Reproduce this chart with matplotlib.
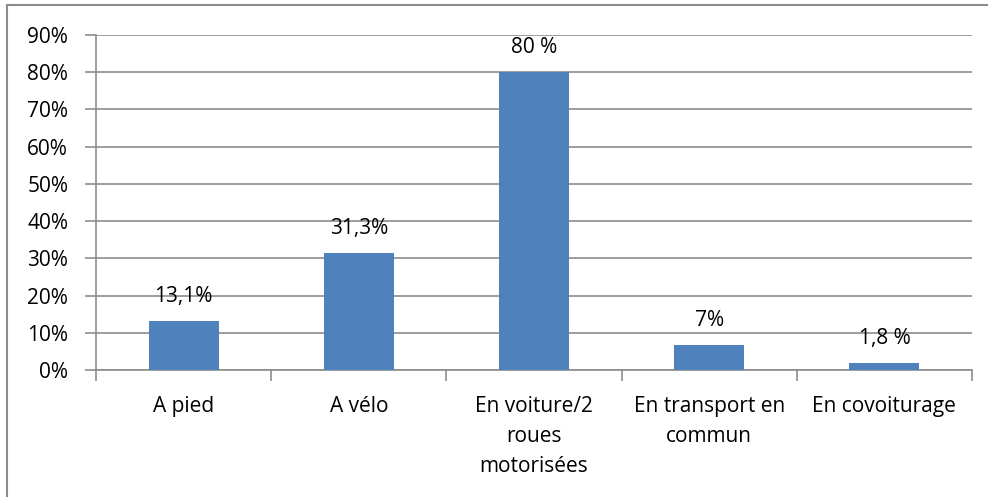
import matplotlib
matplotlib.use("Agg")
import matplotlib.pyplot as plt
from matplotlib.lines import Line2D
import numpy as np

categories = ["A pied", "A vélo", "En voiture/2\nroues\nmotorisées",
              "En transport en\ncommun", "En covoiturage"]
values = [13.1, 31.3, 80.0, 6.7, 1.8]
value_labels = ["13,1%", "31,3%", "80 %", "7%", "1,8 %"]
y_ticks = [0, 10, 20, 30, 40, 50, 60, 70, 80, 90]

plt.rcParams['font.family'] = ['Open Sans', 'DejaVu Sans']
FS = 15

fig = plt.figure(figsize=(9.88, 4.97), dpi=100)
ax = fig.add_axes([96 / 988, 1 - 370 / 497, 876 / 988, 335 / 497])

x = np.arange(len(categories))
ax.bar(x, values, width=0.4, color='#4F81BD', zorder=3)

for xi, v, lab in zip(x, values, value_labels):
    ax.annotate(lab, (xi, v), xytext=(0, 18), textcoords='offset points',
                ha='center', va='center', fontsize=FS, color='black')

ax.set_xlim(-0.5, len(categories) - 0.5)
ax.set_ylim(0, 90)
ax.set_yticks(y_ticks)
ax.set_yticklabels([f"{t}%" for t in y_ticks], fontsize=FS)
ax.yaxis.grid(True, color='#8C8C8C', lw=1.2, zorder=0)

# category labels between boundary ticks
ax.set_xticks(np.arange(len(categories) + 1) - 0.5)
ax.set_xticklabels([])
ax.tick_params(axis='x', length=8, color='#8C8C8C', width=1.2)
ax.tick_params(axis='y', length=8, color='#8C8C8C', width=1.2, pad=12)
for xi, cat in zip(x, categories):
    ax.annotate(cat, (xi, 0), xytext=(0, -19), textcoords='offset points',
                ha='center', va='top', fontsize=FS, linespacing=1.55)

for side in ['top', 'right']:
    ax.spines[side].set_visible(False)
for side in ['left', 'bottom']:
    ax.spines[side].set_color('#8C8C8C')
    ax.spines[side].set_linewidth(1.2)

# outer chart border (top and left visible)
fig.add_artist(Line2D([7 / 988, 1], [1 - 5 / 497, 1 - 5 / 497], color='#8C8C8C', lw=1.5))
fig.add_artist(Line2D([7 / 988, 7 / 988], [0, 1 - 5 / 497], color='#8C8C8C', lw=1.5))

fig.savefig("out.png", dpi=100, facecolor='white')
